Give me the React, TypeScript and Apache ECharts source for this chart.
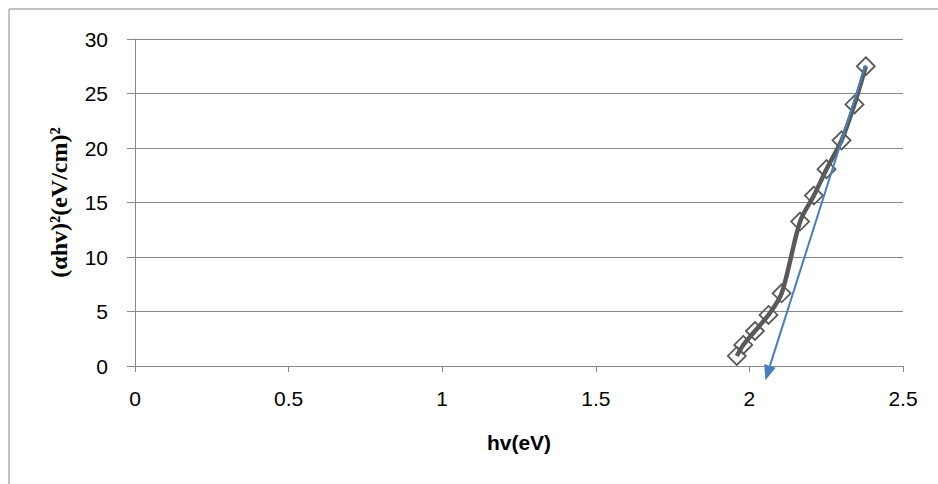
import React, { useEffect, useRef } from "react";
import * as echarts from "echarts";

const hv = [1.959, 1.98, 2.018, 2.062, 2.105, 2.165, 2.21, 2.251, 2.3, 2.342, 2.379];
const ahv2 = [0.92, 1.93, 3.21, 4.68, 6.67, 13.25, 15.64, 18.06, 20.7, 24.0, 27.5];
const fitStart = [2.378, 27.6];
const fitEnd = [2.052, -1.3];
const xTicks = { min: 0, max: 2.5, interval: 0.5 };
const yTicks = { min: 0, max: 30, interval: 5 };

export default function App() {
  const ref = useRef<HTMLDivElement>(null);
  useEffect(() => {
    if (!ref.current) return;
    const chart = echarts.init(ref.current, null, { renderer: "svg" });
    const labelFont = "'Liberation Sans', Arial, sans-serif";
    chart.setOption({
      animation: false,
      backgroundColor: "#ffffff",
      grid: { left: 135, top: 39, right: 35, bottom: 118 },
      graphic: [
        {
          type: "rect",
          shape: { x: 9, y: 9, width: 1200, height: 1200 },
          style: { fill: "none", stroke: "#888888", lineWidth: 1 },
          silent: true,
        },
      ],
      xAxis: {
        type: "value",
        min: xTicks.min,
        max: xTicks.max,
        interval: xTicks.interval,
        name: "hv(eV)",
        nameLocation: "middle",
        nameGap: 66,
        nameTextStyle: { fontFamily: labelFont, fontWeight: "bold", fontSize: 21, color: "#000" },
        axisLine: { show: true, lineStyle: { color: "#888888", width: 1 } },
        axisTick: { show: true, length: 6, inside: false, lineStyle: { color: "#888888" } },
        axisLabel: { fontFamily: labelFont, fontSize: 21, color: "#000", margin: 22 },
        splitLine: { show: false },
      },
      yAxis: {
        type: "value",
        min: yTicks.min,
        max: yTicks.max,
        interval: yTicks.interval,
        name: "(αhv)²(eV/cm)²",
        nameLocation: "middle",
        nameRotate: 90,
        nameGap: 64,
        nameTextStyle: {
          fontFamily: "'Liberation Serif', serif",
          fontWeight: "bold",
          fontSize: 24,
          color: "#000",
        },
        axisLine: { show: true, lineStyle: { color: "#888888", width: 1 } },
        axisTick: { show: true, length: 8, inside: false, lineStyle: { color: "#888888" } },
        axisLabel: { fontFamily: labelFont, fontSize: 21, color: "#000", margin: 27 },
        splitLine: { show: true, lineStyle: { color: "#888888", width: 1 } },
      },
      series: [
        {
          type: "line",
          data: hv.map((x, i) => [x, ahv2[i]]),
          smooth: 0.3,
          symbol: "diamond",
          symbolSize: 18,
          lineStyle: { color: "#595959", width: 4.5 },
          itemStyle: { color: "rgba(255,255,255,0)", borderColor: "#595959", borderWidth: 1.8 },
          z: 3,
        },
        {
          type: "custom",
          clip: false,
          silent: true,
          z: 4,
          data: [[fitStart[0], fitStart[1], fitEnd[0], fitEnd[1]]],
          encode: { x: [0, 2], y: [1, 3] },
          renderItem: (params: any, api: any) => {
            const p1 = api.coord([api.value(0), api.value(1)]);
            const p2 = api.coord([api.value(2), api.value(3)]);
            const dx = p2[0] - p1[0];
            const dy = p2[1] - p1[1];
            const len = Math.sqrt(dx * dx + dy * dy);
            const ux = dx / len;
            const uy = dy / len;
            const headLen = 15;
            const headHalf = 6;
            const bx = p2[0] - ux * headLen;
            const by = p2[1] - uy * headLen;
            const nx = -uy;
            const ny = ux;
            return {
              type: "group",
              children: [
                {
                  type: "line",
                  shape: { x1: p1[0], y1: p1[1], x2: bx, y2: by },
                  style: { stroke: "#4a7ebb", lineWidth: 2 },
                },
                {
                  type: "polygon",
                  shape: {
                    points: [
                      [p2[0], p2[1]],
                      [bx + nx * headHalf, by + ny * headHalf],
                      [bx - nx * headHalf, by - ny * headHalf],
                    ],
                  },
                  style: { fill: "#4a7ebb" },
                },
              ],
            };
          },
        },
      ],
    });
    return () => chart.dispose();
  }, []);
  return (
    <div
      ref={ref}
      style={{ position: "fixed", left: 0, top: 0, width: 938, height: 484 }}
    />
  );
}
